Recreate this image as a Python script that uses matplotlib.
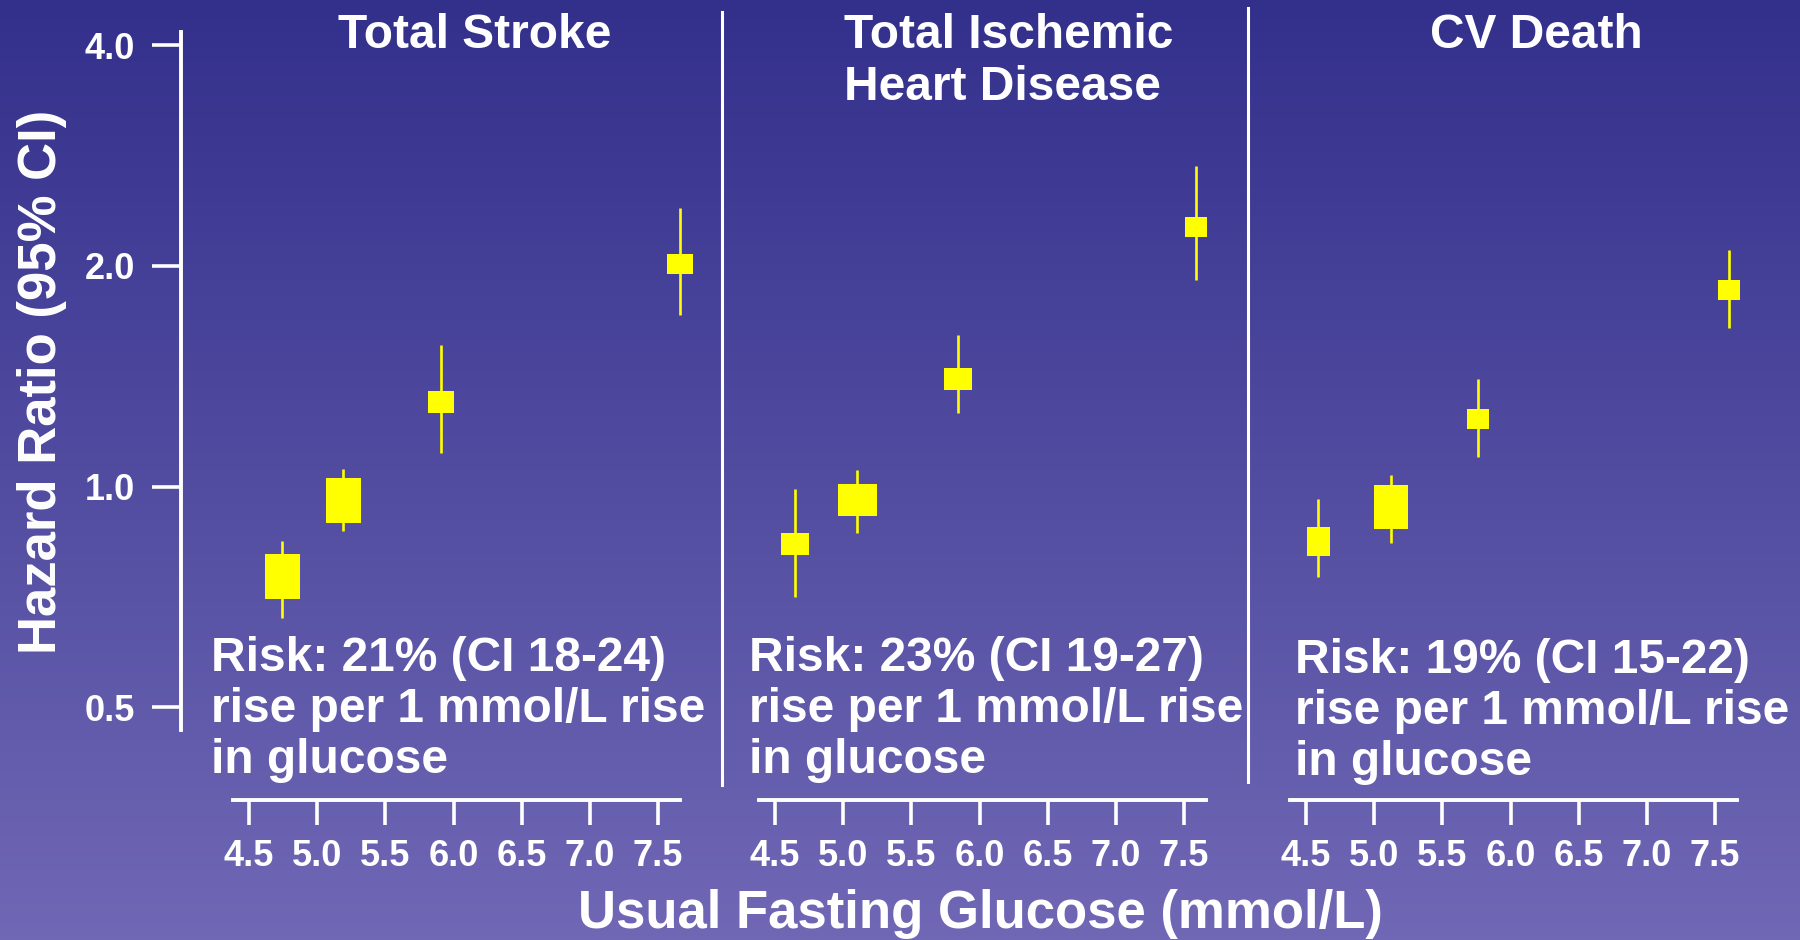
import numpy as np
import matplotlib.pyplot as plt
from matplotlib.lines import Line2D
from matplotlib.colors import LinearSegmentedColormap
from matplotlib.ticker import NullLocator

plt.rcParams['font.family'] = ['Liberation Sans', 'DejaVu Sans']
plt.rcParams['font.weight'] = 'bold'

# panels
titles = ["Total Stroke", "Total Ischemic\nHeart Disease", "CV Death"]
risk_notes = ["Risk: 21% (CI 18-24)\nrise per 1 mmol/L rise\nin glucose",
              "Risk: 23% (CI 19-27)\nrise per 1 mmol/L rise\nin glucose",
              "Risk: 19% (CI 15-22)\nrise per 1 mmol/L rise\nin glucose"]

# usual fasting glucose (mmol/L), hazard ratio and 95% CI per group
glucose_stroke = [4.74, 5.19, 5.91, 7.66]
hr_stroke = [0.756, 0.960, 1.304, 2.009]
lo_stroke = [0.661, 0.871, 1.112, 1.714]
hi_stroke = [0.844, 1.057, 1.560, 2.397]

glucose_ihd = [4.65, 5.10, 5.84, 7.59]
hr_ihd = [0.835, 0.959, 1.402, 2.260]
lo_ihd = [0.707, 0.864, 1.260, 1.913]
hi_ihd = [0.992, 1.054, 1.610, 2.737]

glucose_cvd = [4.59, 5.12, 5.76, 7.60]
hr_cvd = [0.844, 0.938, 1.237, 1.857]
lo_cvd = [0.753, 0.838, 1.097, 1.645]
hi_cvd = [0.961, 1.037, 1.402, 2.103]

# box sizes (w, h in px), proportional to amount of information
box_stroke = [(35, 45), (35, 45), (27, 22), (27, 21)]
box_ihd = [(28, 22), (39, 32), (28, 22), (23, 20)]
box_cvd = [(23, 29), (34, 44), (23, 20), (23, 21)]

x_ticks = [4.5, 5.0, 5.5, 6.0, 6.5, 7.0, 7.5]
y_ticks = [0.5, 1.0, 2.0, 4.0]

W, H = 1800, 940
PX = 0.72  # points per pixel at dpi 100
fig = plt.figure(figsize=(W / 100, H / 100), dpi=100)

# gradient background
bg = fig.add_axes([0, 0, 1, 1], zorder=-10)
cmap = LinearSegmentedColormap.from_list('bg', ['#33308c', '#7068b5'])
bg.imshow(np.linspace(0, 1, 256)[:, None], aspect='auto', cmap=cmap,
          extent=[0, 1, 0, 1], origin='upper')
bg.axis('off')

# y scale: px from top = 486.6 - 220.7 * log2(HR)
y_bottom = 2 ** ((486.6 - 800) / 220.7)
y_top = 2 ** (486.6 / 220.7)

panels = [
    (glucose_stroke, hr_stroke, lo_stroke, hi_stroke, box_stroke),
    (glucose_ihd, hr_ihd, lo_ihd, hi_ihd, box_ihd),
    (glucose_cvd, hr_cvd, lo_cvd, hi_cvd, box_cvd),
]
lefts = [181, 706.9, 1237.9]
title_x = [475, 844, 1536]
title_ha = ['center', 'left', 'center']
note_x = [211, 749, 1295]
note_y = [671, 671, 673]

for i, (gx, hr, lo, hi, box) in enumerate(panels):
    ax = fig.add_axes([lefts[i] / W, 140 / H, 538 / W, 800 / H])
    ax.set_facecolor('none')
    ax.set_yscale('log')
    ax.set_xlim(4.0, 7.947)
    ax.set_ylim(y_bottom, y_top)

    ax.vlines(gx, lo, hi, color='#ffff00', lw=1.9, zorder=3)
    for x, y, (bw, bh) in zip(gx, hr, box):
        verts = [(-bw / 2, -bh / 2), (bw / 2, -bh / 2), (bw / 2, bh / 2), (-bw / 2, bh / 2), (-bw / 2, -bh / 2)]
        ax.plot([x], [y], marker=verts, markersize=max(bw, bh) * PX,
                color='#ffff00', markeredgewidth=0, linestyle='none', zorder=4)

    for s in ['top', 'right']:
        ax.spines[s].set_visible(False)
    ax.spines['bottom'].set_color('white')
    ax.spines['bottom'].set_linewidth(2.8)
    ax.spines['bottom'].set_bounds(4.38, 7.66)
    ax.set_xticks(x_ticks, labels=[f"{t:.1f}" for t in x_ticks])
    ax.tick_params(axis='x', colors='white', length=18, width=2.6, pad=10, labelsize=26)

    ax.yaxis.set_minor_locator(NullLocator())
    if i == 0:
        ax.spines['left'].set_color('white')
        ax.spines['left'].set_linewidth(2.8)
        ax.spines['left'].set_bounds(2 ** ((486.6 - 730) / 220.7), 2 ** ((486.6 - 32) / 220.7))
        ax.set_yticks(y_ticks, labels=[f"{t:.1f}" for t in y_ticks])
        ax.tick_params(axis='y', colors='white', length=21, width=2.6, pad=12, labelsize=26)
    else:
        ax.spines['left'].set_visible(False)
        ax.tick_params(axis='y', left=False, labelleft=False)

    for k, line in enumerate(titles[i].split('\n')):
        fig.text(title_x[i] / W, 1 - (48 + 52 * k) / H, line, color='white',
                 fontsize=34.5, ha=title_ha[i], va='baseline')
    for k, line in enumerate(risk_notes[i].split('\n')):
        fig.text(note_x[i] / W, 1 - (note_y[i] + 51 * k) / H, line, color='white',
                 fontsize=34.5, ha='left', va='baseline')

# panel dividers
fig.add_artist(Line2D([722 / W] * 2, [1 - 12 / H, 1 - 785 / H], color='white', lw=2.2))
fig.add_artist(Line2D([1248 / W] * 2, [1 - 8 / H, 1 - 782 / H], color='white', lw=2.2))

fig.text(980 / W, 1 - 928 / H, "Usual Fasting Glucose (mmol/L)", color='white',
         fontsize=38, ha='center', va='baseline')
fig.text(56 / W, 1 - 382 / H, "Hazard Ratio (95% CI)", color='white', fontsize=38,
         rotation=90, rotation_mode='anchor', ha='center', va='baseline')

fig.savefig('out.png', dpi=100)
